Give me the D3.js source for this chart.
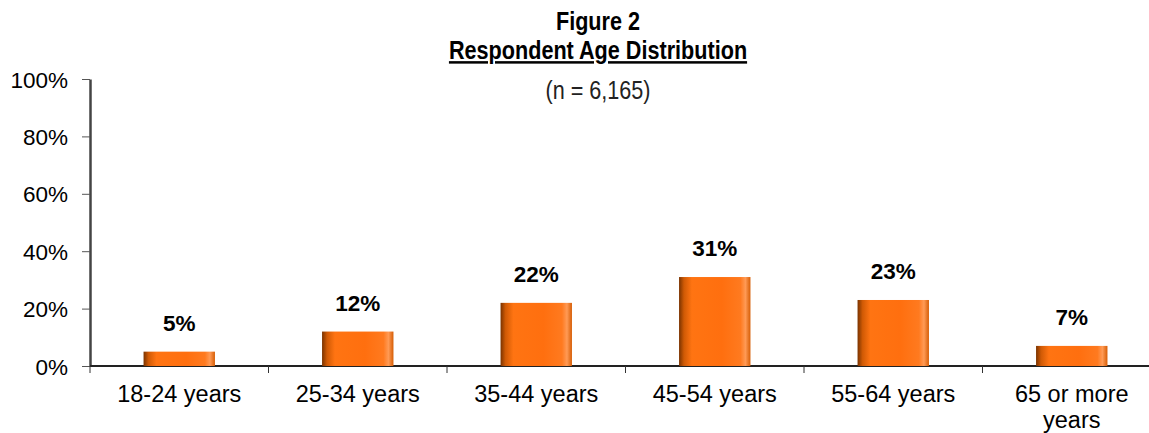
<!DOCTYPE html>
<html><head><meta charset="utf-8">
<script src="https://cdn.jsdelivr.net/npm/d3@7"></script>
<style>
html,body{margin:0;padding:0;background:#fff;}
svg{display:block;}
</style></head>
<body>
<svg id="chart" width="1149" height="433"></svg>
<script>
const categories = ["18-24 years","25-34 years","35-44 years","45-54 years","55-64 years","65 or more years"];
const values = [5,12,22,31,23,7];
const yTicks = [0,20,40,60,80,100];
const titleLines = ["Figure 2","Respondent Age Distribution","(n = 6,165)"];

const svg = d3.select("#chart");
const m = {left:90};
const plotW = 178.5*6;
const x = d3.scaleBand().domain(categories).range([m.left, m.left+plotW]).paddingInner(0.6).paddingOuter(0.3);
const y = d3.scaleLinear().domain([0,100]).range([366,79]);

const defs = svg.append("defs");
const g = defs.append("linearGradient").attr("id","barGrad").attr("x1","0").attr("x2","1").attr("y1","0").attr("y2","0");
[[0,"#7a3300"],[0.07,"#d05a05"],[0.18,"#ff7412"],[0.6,"#ff6f0f"],[0.86,"#ff7a1f"],[0.93,"#ff9a55"],[1,"#d65d05"]]
  .forEach(([o,c])=>g.append("stop").attr("offset",o).attr("stop-color",c));

const font = "Arial,'Liberation Sans',sans-serif";
const cx = 598, sx = 0.865;

// Title (condensed via horizontal scale)
function title(txt, yb, bold, underline, fill){
  const t = svg.append("text").attr("transform",`translate(${cx},${yb}) scale(${sx},1)`)
    .attr("text-anchor","middle").attr("font-family",font).attr("font-size",25)
    .attr("font-weight",bold?"bold":"normal").attr("fill",fill).text(txt);
  if(underline) t.attr("text-decoration","underline");
}
title(titleLines[0],30,true,false,"#000");
title(titleLines[1],59,true,true,"#000");
title(titleLines[2],99,false,false,"#222");

// Y axis
const yAxis = svg.append("g").attr("transform",`translate(${m.left},0)`)
  .call(d3.axisLeft(y).tickValues(yTicks).tickFormat(d=>d+"%").tickSize(8).tickSizeOuter(0));
yAxis.select(".domain").attr("stroke","#444").attr("stroke-width",2.5);
yAxis.selectAll(".tick line").attr("stroke","#555");
yAxis.selectAll(".tick text").attr("font-family",font).attr("font-size",22.5).attr("fill","#000")
  .attr("x",-22).attr("dy","0.36em");

// X axis
const xAxis = svg.append("g").attr("transform",`translate(0,366)`);
xAxis.append("line").attr("x1",m.left).attr("x2",m.left+plotW).attr("y1",0).attr("y2",0)
  .attr("stroke","#222").attr("stroke-width",2);
xAxis.selectAll(".xt").data(d3.range(categories.length+1)).join("line")
  .attr("x1",i=>m.left+i*plotW/categories.length).attr("x2",i=>m.left+i*plotW/categories.length)
  .attr("y1",0).attr("y2",7).attr("stroke","#333");
const lbl = xAxis.selectAll(".xl").data(categories).join("text")
  .attr("text-anchor","middle").attr("font-family",font).attr("font-size",23.5).attr("fill","#000")
  .attr("transform",d=>`translate(${x(d)+x.bandwidth()/2},36)`);
lbl.each(function(d){
  const t = d3.select(this);
  const parts = d==="65 or more years" ? ["65 or more","years"] : [d];
  parts.forEach((p,i)=>t.append("tspan").attr("x",0).attr("dy",i===0?0:26).text(p));
});

// Bars
svg.selectAll(".bar").data(values).join("rect")
  .attr("x",(d,i)=>x(categories[i])).attr("width",x.bandwidth())
  .attr("y",d=>y(d)).attr("height",d=>y(0)-y(d))
  .attr("fill","url(#barGrad)");

// Value labels
svg.selectAll(".val").data(values).join("text")
  .attr("x",(d,i)=>x(categories[i])+x.bandwidth()/2).attr("y",d=>y(d)-21)
  .attr("text-anchor","middle").attr("font-family",font).attr("font-weight","bold")
  .attr("font-size",22.5).attr("fill","#000").text(d=>d+"%");
</script>
</body></html>
